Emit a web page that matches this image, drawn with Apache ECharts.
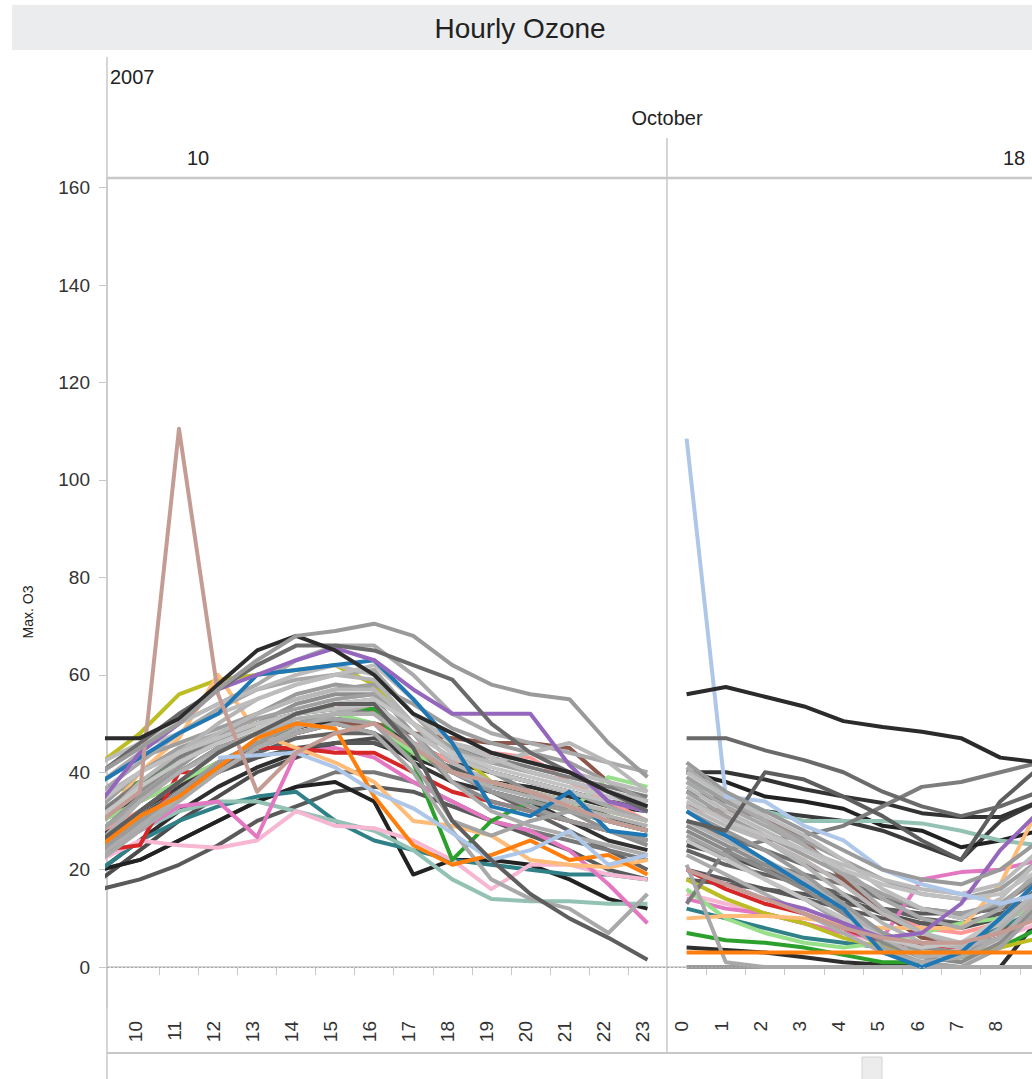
<!DOCTYPE html>
<html><head><meta charset="utf-8">
<script src="https://cdn.jsdelivr.net/npm/echarts@6/dist/echarts.min.js"></script>
<style>html,body{margin:0;padding:0;background:#fff}#c{width:1032px;height:1079px}</style>
</head><body><div id="c"></div><script>
// ---- data ----
const hoursOct10 = [9,10,11,12,13,14,15,16,17,18,19,20,21,22,23];
const hoursOct18 = [0,1,2,3,4,5,6,7,8,9];
const labelsOct10 = [10,11,12,13,14,15,16,17,18,19,20,21,22,23];
const labelsOct18 = [0,1,2,3,4,5,6,7,8];
const yTickValues = [0,20,40,60,80,100,120,140,160];

// one row per monitoring station (same order in both panels)
const oct10Values = [
  [20,26,32,37,41,44,46,46,43,40,38,37,35,33,32],
  [18,24,30,35,40,43,46,47,44,40,37,36,34,31,28],
  [26,31,36,40,43,45,46,46,44,41,38,35,32,30,28],
  [24,30,35,40,44,47,48,48,44,40,36,32,28,24,20],
  [22,30,36,41,45,48,50,50,46,42,40,38,36,34,32],
  [20,22,26,30,34,37,40,40,38,34,30,28,26,24,22],
  [16,18,21,25,30,33,36,37,36,33,30,27,24,20,18],
  [27,32,37,42,46,49,51,50,46,42,40,38,36,34,33],
  [30,35,40,45,48,50,50,48,42,38,36,34,30,26,24],
  [20,22,26,30,34,37,38,34,19,22,22,21,18,14,12],
  [20,26,30,33,35,36,30,26,24,22,21,20,19,19,18],
  [24,28,32,34,34,32,30,28,24,18,14,13.5,13.5,13,13],
  [22,26,25,24.5,26,32,29,28.5,26,22,16,21,21,19,18],
  [24,28,33,34,26.7,44,45,43,38,34,30,28,24,17,9],
  [24,25,40,40,45,45,44,44,40,36,34,32,30,28,26],
  [28,32,38,44,48,52,54,52,46,42,44,43,38,34,30],
  [30,34,38,42,46,48,50,50,48,47,46,46,45,38,34],
  [35,38,42,46,50,52,53,53,42,22,30,34,32,30,28],
  [30,34,38,42,46,50,52,50,44,40,38,36,32,39,37],
  [42,48,56,59,60,61,62,58,50,45,38,36,34,32,30],
  [30,40,47,60,48,45,42,38,30,29,27,22,21,20.5,22],
  [32,38,43,47,50,52,53,52,48,45,43,41,39,37,35],
  [25,32,38,44,48,52,54,55,46,38,34,32,30,28,26],
  [30,36,42,46,50,54,56,56,50,44,40,36,32,28,25],
  [24,30,36,42,46,50,52,52,46,40,36,33,30,28,26],
  [28,35,41,47,52,56,58,57,48,40,36,34,32,30,28],
  [38,43,46,49,52,55,57,58,54,49,46,44,42,38,34],
  [33,40,45,48,51,53,55,56,50,45,42,40,38,36,34],
  [28,34,40,45,48,50,51,50,42,30,27,30,32,30,28],
  [36,42,48,53,57,59,60,61,52,44,40,38,36,33,30],
  [22,28,34,40,45,48,50,48,40,28,18,14,12,7,15],
  [38,44,50,54,58,63,66,66,60,52,48,46,44,42,40],
  [23,29,35,40,45,49,52,54,48,38,32,29,27,25,23],
  [26,34,40,44,48,51,52,52,46,40,37,35,33,31,29],
  [30,38,44,50,55,58,60,59,50,42,38,36,34,32,30],
  [35,40,44,48,52,55,57,57,50,44,42,44,46,42,36],
  [42,46,50,54,57,60,62,60,52,46,44,42,40,38,36],
  [40,45,48,52,55,58,60,62,55,46,43,40,38,36,34],
  [34,40,44,47,50,52,53,54,48,43,40,38,36,34,32],
  [31,37,42,46,49,52,54,55,50,44,41,39,37,35,33],
  [38,43,48,52,60,61,62,63,55,46,33,31,36,28,27],
  [34,44,50,57,60,63,65.5,63,57,52,52,52,41.5,34,32],
  [25,31,35,41,47,50,49,35,25,21,23,26,22,23,19],
  [null,null,null,43,43.5,44,41,36,32.6,27.5,22,24,28,21,23],
  [30,36,110.5,56,36,44,48,50,45,40,38,36,33,30,28],
  [26,32,38,44,48,52,54,54,45,30,22,15,10,6,1.5],
  [40,46,52,57,62,66,66,65,62,59,50,44,40,36,32],
  [47,47,51,58,65,68,65,60,52,48,44,42,40,36,33],
  [40,45,50,57,63,68,69,70.5,68,62,58,56,55,46,39]
];
const oct18Values = [
  [4,3.5,3,2,1,0.5,0,0,0,10],
  [25,23,20,17,14,11,9,8,10,14],
  [20,18,16,15,13,12,11,11,12,14],
  [24,21,19,17,15,12,10,9,10,12],
  [30,27,24,21,18,14,12,11,12,16],
  [26,23,21,19,17,14,12,10,13,18],
  [18,17,16,14,12,10,9,9,11,14],
  [36,34,32,31,30,28,25,22,30,34],
  [40,40,38.5,36.5,35,33.7,31.6,30.8,30.8,34],
  [40,38,35,34,32.5,29,28,24.6,26,28],
  [12,10,8,6,5,4,4,5,8,12],
  [38,35,32,30,30,30,29.5,28,26,25],
  [15,13,11,9,7,5,4,4,6,9],
  [14,12,11,9,7,6,18,19.5,20,22],
  [20,16,13,11,8,5,4.5,4,6,11],
  [33,31,26,22,17,11,8,7,9,14],
  [33,32,31,26,18,11,6,5,7,12],
  [7,5.5,5,4,2.5,1,1,2,4,8],
  [16,10,7,5,4,5,7,9,10,12],
  [18,14,11,9,6,4,3,3,4,6],
  [10,10.5,10.5,10,9,8,8,8,17,33],
  [13,24,26,27,29,33,37,38,40,42],
  [28,24,20,16,11,5,2,1,5,12],
  [29,25,21,17,12,7,4,3,6,13],
  [0,0,0,0,0,0,0,0,0,0],
  [32,28,24,19,13,7,3,2,8,16],
  [39,34,30,26,22,18,15,14,16,22],
  [36,31,27,23,19,15,12,11,13,19],
  [27,23,18,14,9,4,1,0,4,12],
  [38,33,29,25,20,14,10,8,12,20],
  [21,1,0,0,0,0,0,0,0,0],
  [41,35,30,25,19,12,7,4,6,14],
  [23,19,15,11,7,3,1,2,6,14],
  [30,26,22,18,12,6,2,3,8,15],
  [35,30,26,21,15,9,5,4,10,18],
  [33,29,26,22,17,11,7,5,9,16],
  [37,32,28,24,21,18,16,15,17,24],
  [40,35,31,27,22,16,12,10,14,22],
  [34,30,27,24,20,17,15,14,15,20],
  [26,22,18,14,10,6,4,5,10,18],
  [32,27,22,17,12,3,0,3,10,18],
  [20,17,14,12,9,6,7,13,24,32],
  [3,3,3,3,3,3,3,3,3,3],
  [108.5,35,34,29,26,20,17,15,13,15],
  [20,17,14,11,8,6,5,5,7,10],
  [30,28,40,38.5,35,31,26,22,34,41],
  [47,47,44.5,42.5,40,36,33,31,33,36],
  [56,57.5,55.5,53.5,50.5,49.3,48.3,47,43,42],
  [42,36,32,28,24,20,18,17,20,26]
];

// ---- styles ----
const stationColors = [
  '#2e2e2e','#4d4d4d','#585858','#636363','#6e6e6e','#777777','#5a5a5a','#3c3c3c','#333333','#222222',
  '#2f8087','#93c1b4','#f7b6d2','#e377c2','#d62728','#ff9896','#8c564b','#2ca02c','#98df8a','#bcbd22','#ffbb78',
  '#7d7d7d','#8a8a8a','#8f8f8f','#9b9b9b','#9a9a9a','#9e9e9e','#a0a0a0','#a3a3a3','#a8a8a8','#a9a9a9','#aaaaaa',
  '#acacac','#b0b0b0','#b5b5b5','#b8b8b8','#bbbbbb','#bdbdbd','#c0c0c0','#c4c4c4',
  '#1f77b4','#9467bd','#ff7f0e','#aec7e8','#c49c94','#5e5e5e','#6a6a6a','#2b2b2b','#9a9a9a'
];

const FONT = '"Liberation Sans", Arial, sans-serif';
const frame = '#c8c8c8';
const LW = 4;

function pairs(hours, vals) {
  const out = [];
  hours.forEach((h, i) => { if (vals[i] != null) out.push([h, vals[i]]); });
  return out;
}

const series = [];
oct10Values.forEach((vals, i) => {
  series.push({
    type: 'line', xAxisIndex: 0, yAxisIndex: 0, data: pairs(hoursOct10, vals),
    symbol: 'none', silent: true, clip: true,
    lineStyle: { width: LW, color: stationColors[i], join: 'round' }, itemStyle: { color: stationColors[i] }
  });
});
oct18Values.forEach((vals, i) => {
  series.push({
    type: 'line', xAxisIndex: 1, yAxisIndex: 1, data: pairs(hoursOct18, vals),
    symbol: 'none', silent: true, clip: true,
    lineStyle: { width: LW, color: stationColors[i], join: 'round' }, itemStyle: { color: stationColors[i] }
  });
});
const zeroLine = {
  silent: true, symbol: ['none', 'none'], label: { show: false },
  lineStyle: { type: [2, 2], color: '#a8a8a8', width: 1.2 }, data: [{ yAxis: 0 }]
};
series[0].markLine = zeroLine;
series[oct10Values.length].markLine = zeroLine;

function xAxisFor(grid, min, max, labels) {
  return {
    type: 'value', gridIndex: grid, min: min, max: max,
    axisLine: { show: true, lineStyle: { color: frame, width: 1.5 } },
    axisTick: { show: true, length: 8, lineStyle: { color: frame },
      customValues: labels.slice(0, -1).map(v => v + 0.5) },
    axisLabel: { customValues: labels.map(v => v - 0.12), rotate: 90, margin: 13, fontSize: 19, color: '#333', fontFamily: FONT,
      formatter: v => String(Math.round(v)) },
    splitLine: { show: false }
  };
}

const chart = echarts.init(document.getElementById('c'), null, { renderer: 'svg' });
chart.setOption({
  animation: false,
  backgroundColor: '#fff',
  grid: [
    { left: 107, top: 178, width: 560, height: 830 },
    { left: 667, top: 178, width: 365, height: 830 }
  ],
  xAxis: [
    xAxisFor(0, 9.156, 23.5, labelsOct10),
    xAxisFor(1, -0.5, 8.81, labelsOct18.concat([9]))
  ],
  yAxis: [
    { type: 'value', gridIndex: 0, min: -8.4, max: 162,
      axisLine: { show: true, lineStyle: { color: frame, width: 1.5 } },
      axisTick: { show: true, length: 8, customValues: yTickValues, lineStyle: { color: frame } },
      axisLabel: { customValues: yTickValues, margin: 17, fontSize: 19, color: '#333', fontFamily: FONT },
      splitLine: { show: false } },
    { type: 'value', gridIndex: 1, min: -8.4, max: 162,
      axisLine: { show: false }, axisTick: { show: false }, axisLabel: { show: false }, splitLine: { show: false } }
  ],
  graphic: [
    { type: 'rect', shape: { x: 12, y: 5, width: 1020, height: 45 }, style: { fill: '#ebecee' }, z: -10 },
    { type: 'text', x: 520, y: 28, style: { text: 'Hourly Ozone', font: '28px ' + FONT, fill: '#222', align: 'center', verticalAlign: 'middle' } },
    { type: 'line', shape: { x1: 107, y1: 57, x2: 107, y2: 1079 }, style: { stroke: frame, lineWidth: 1.5 } },
    { type: 'line', shape: { x1: 667, y1: 138, x2: 667, y2: 1053 }, style: { stroke: frame, lineWidth: 1.5 } },
    { type: 'line', shape: { x1: 107, y1: 178, x2: 1032, y2: 178 }, style: { stroke: frame, lineWidth: 2.5 } },
    { type: 'line', shape: { x1: 107, y1: 1053, x2: 1032, y2: 1053 }, style: { stroke: frame, lineWidth: 2 } },
    { type: 'rect', shape: { x: 862, y: 1057, width: 20, height: 24 }, style: { fill: '#ececec', stroke: '#d4d4d4', lineWidth: 1 } },
    { type: 'text', x: 110, y: 77, style: { text: '2007', font: '20px ' + FONT, fill: '#222', align: 'left', verticalAlign: 'middle' } },
    { type: 'text', x: 667, y: 118, style: { text: 'October', font: '20px ' + FONT, fill: '#222', align: 'center', verticalAlign: 'middle' } },
    { type: 'text', x: 198, y: 158, style: { text: '10', font: '20px ' + FONT, fill: '#222', align: 'center', verticalAlign: 'middle' } },
    { type: 'text', x: 1014, y: 158, style: { text: '18', font: '20px ' + FONT, fill: '#222', align: 'center', verticalAlign: 'middle' } },
    { type: 'text', x: 28, y: 612, rotation: Math.PI / 2, style: { text: 'Max. O3', font: '14px ' + FONT, fill: '#222', align: 'center', verticalAlign: 'middle' } }
  ],
  series: series
});
</script></body></html>
